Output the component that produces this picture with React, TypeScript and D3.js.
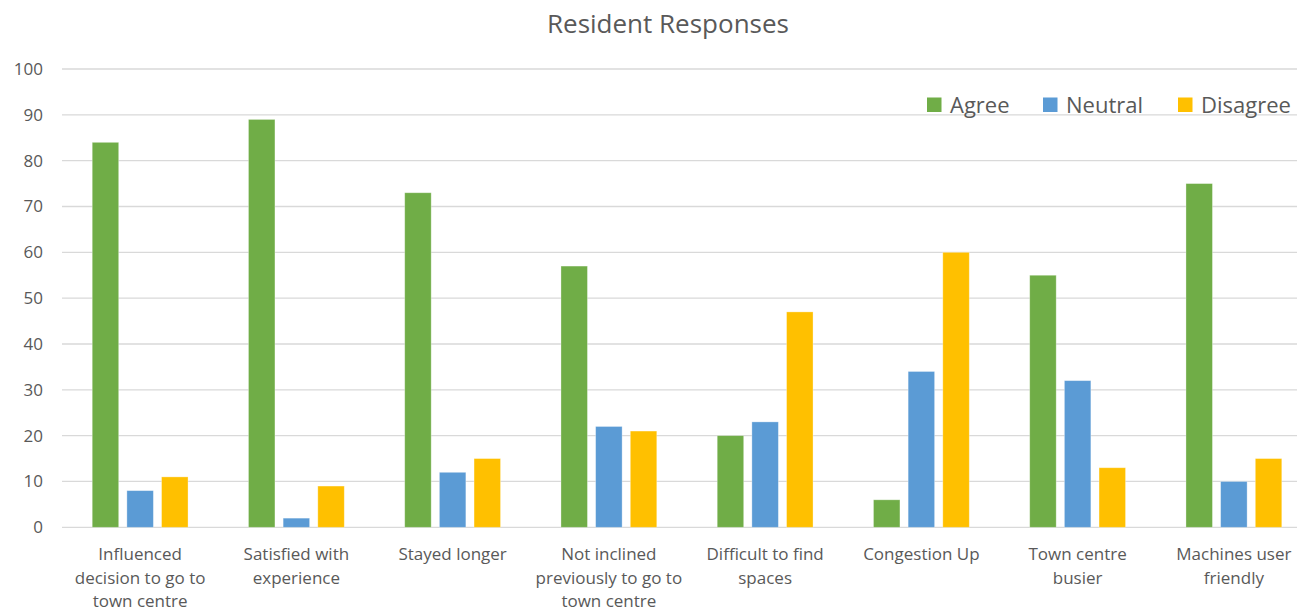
import React from "react";
import * as d3 from "d3";

const categories = [
  ["Influenced", "decision to go to", "town centre"],
  ["Satisfied with", "experience"],
  ["Stayed longer"],
  ["Not inclined", "previously to go to", "town centre"],
  ["Difficult to find", "spaces"],
  ["Congestion Up"],
  ["Town centre", "busier"],
  ["Machines user", "friendly"],
];
const seriesNames = ["Agree", "Neutral", "Disagree"];
const agree = [84, 89, 73, 57, 20, 6, 55, 75];
const neutral = [8, 2, 12, 22, 23, 34, 32, 10];
const disagree = [11, 9, 15, 21, 47, 60, 13, 15];
const yTicks = [0, 10, 20, 30, 40, 50, 60, 70, 80, 90, 100];
const colors = ["#70AD47", "#5B9BD5", "#FFC000"];

const W = 1297;
const H = 609;
const FONT = "'Open Sans', sans-serif";
const TEXT = "#595959";

export default function App() {
  const values = [agree, neutral, disagree];
  const idx = categories.map((_, i) => String(i));
  const x0 = d3.scaleBand().domain(idx).range([62, 1312]).padding(0);
  const x1 = d3
    .scaleBand()
    .domain(seriesNames)
    .range([-52, 52])
    .paddingInner(0.236)
    .paddingOuter(0.118);
  const y = d3.scaleLinear().domain([0, 100]).range([527.3, 69]);

  const legendX = [927, 1043, 1178];

  return (
    <svg
      width={W}
      height={H}
      style={{ position: "absolute", left: 0, top: 0, background: "#fff" }}
      fontFamily={FONT}
    >
      <rect x={0} y={0} width={W} height={H} fill="#fff" />
      <text x={668} y={33} textAnchor="middle" fontSize={26} fill={TEXT}>
        Resident Responses
      </text>
      {yTicks.map((t) => (
        <g key={t}>
          <line x1={62} x2={W} y1={y(t)} y2={y(t)} stroke="#D9D9D9" strokeWidth={1.3} />
          <text x={43} y={y(t) + 6} textAnchor="end" fontSize={17} fill={TEXT}>
            {t}
          </text>
        </g>
      ))}
      {categories.map((lines, i) => {
        const cx = (x0(String(i)) as number) + x0.bandwidth() / 2;
        return (
          <g key={i}>
            {seriesNames.map((s, k) => {
              const v = values[k][i];
              const bx = cx + (x1(s) as number);
              return (
                <rect
                  key={s}
                  x={bx}
                  y={y(v)}
                  width={x1.bandwidth()}
                  height={y(0) - y(v)}
                  fill={colors[k]}
                  stroke="#fff"
                  strokeOpacity={0.4}
                  strokeWidth={0.8}
                />
              );
            })}
            <text textAnchor="middle" fontSize={17} fill={TEXT}>
              {lines.map((l, j) => (
                <tspan key={j} x={cx} y={560 + j * 23.5}>
                  {l}
                </tspan>
              ))}
            </text>
          </g>
        );
      })}
      {seriesNames.map((s, k) => (
        <g key={s}>
          <rect x={legendX[k]} y={97.5} width={14.5} height={14.5} fill={colors[k]} />
          <text x={legendX[k] + 23} y={112.5} fontSize={22} fill={TEXT}>
            {s}
          </text>
        </g>
      ))}
    </svg>
  );
}
